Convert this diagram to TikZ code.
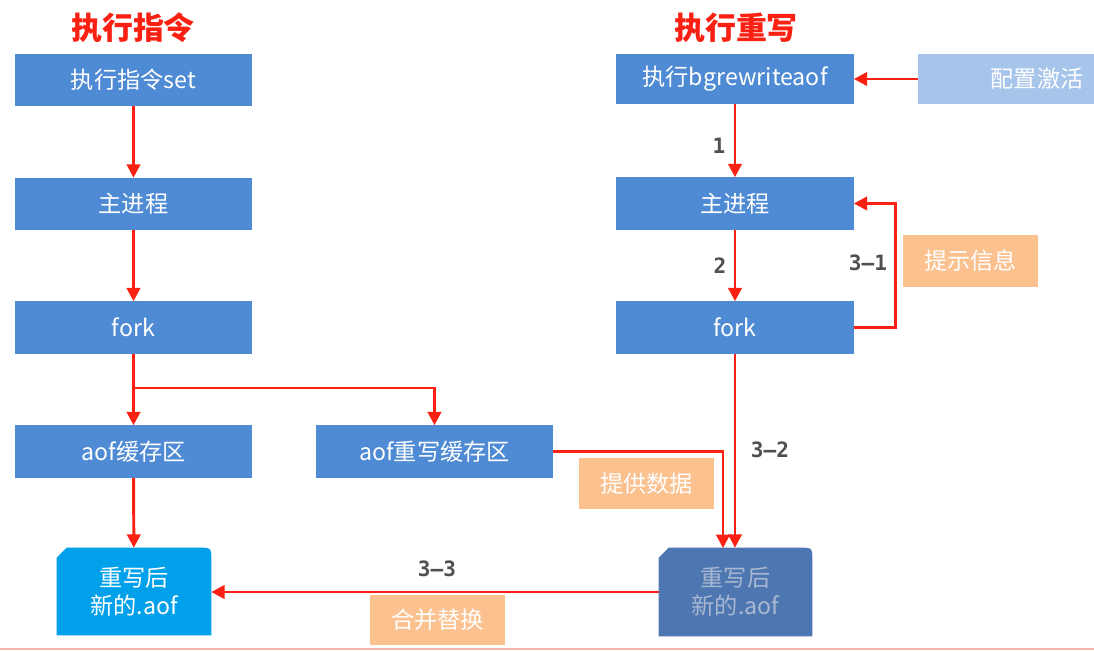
\documentclass[tikz,border=0pt]{standalone}
\usepackage{fontspec}
\setmainfont{Noto Sans CJK SC}
\newfontfamily\labfont{DejaVu Sans Mono}
\usetikzlibrary{arrows.meta,backgrounds}
\definecolor{boxblue}{RGB}{79,139,212}
\definecolor{lightblue}{RGB}{167,196,234}
\definecolor{peach}{RGB}{251,193,143}
\definecolor{cyanf}{RGB}{0,161,234}
\definecolor{steel}{RGB}{78,119,177}
\definecolor{steeltext}{RGB}{168,184,210}
\definecolor{arrred}{RGB}{250,32,18}
\definecolor{labgray}{RGB}{80,80,80}
\definecolor{salmon}{RGB}{246,183,168}
\begin{document}
\begin{tikzpicture}[x=0.025cm,y=-0.025cm,
  bluebox/.style={fill=boxblue,text=white,inner sep=0pt,minimum width=5.925cm,minimum height=1.3cm,font=\fontsize{16.5}{19}\selectfont},
  peachbox/.style={fill=peach,text=white,inner sep=0pt,minimum width=3.375cm,minimum height=1.28cm,font=\fontsize{16.5}{19}\selectfont},
  filebox/.style={inner sep=0pt,align=center,font=\fontsize{16.5}{20}\selectfont},
  lab/.style={text=labgray,font=\labfont\bfseries\fontsize{15}{18}\selectfont},
  ttl/.style={text=arrred,font=\bfseries\fontsize{22}{26}\selectfont},
  arr/.style={draw=arrred,line width=2.1pt,-{Triangle[length=9.5pt,width=9.5pt]}}]
\useasboundingbox (0,0) rectangle (1094,651);
% titles
\node[ttl] (t1) at (133,28) {执行指令};
\node[ttl] (t2) at (736,28) {执行重写};
% left column
\node[bluebox] (set) at (133.5,80) {执行指令set};
\node[bluebox] (mp1) at (133.5,204) {主进程};
\node[bluebox] (fork1) at (133.5,327.5) {fork};
\node[bluebox] (aofb) at (133.5,451.5) {aof缓存区};
\node[bluebox] (aofrw) at (434.5,451.5) {aof重写缓存区};
% right column
\node[bluebox,minimum height=1.25cm] (bgr) at (735,79) {执行bgrewriteaof};
\node[bluebox] (mp2) at (735,203.5) {主进程};
\node[bluebox] (fork2) at (735,327.5) {fork};
\node[bluebox,fill=lightblue,minimum height=1.25cm] (cfg) at (1037,79) {配置激活};
% peach labels
\node[peachbox] (tip) at (970.5,261) {提示信息};
\node[peachbox] (data) at (646.5,483.5) {提供数据};
\node[peachbox,minimum height=1.25cm] (merge) at (437.5,620) {合并替换};
% files
\node[filebox,text=white,minimum width=3.85cm,minimum height=2.175cm] (new1) at (134,591.5) {重写后\\新的.aof};
\node[filebox,text=steeltext,minimum width=3.825cm,minimum height=2.2cm] (new2) at (735.5,592) {重写后\\新的.aof};
\begin{pgfonlayer}{background}
\fill[white] (0,0) rectangle (1094,651);
\fill[cyanf] (new1.south west) -- ([yshift=-7pt]new1.north west) -- ([xshift=7pt]new1.north west) -- ([xshift=-8pt]new1.north east) .. controls (new1.north east) .. ([yshift=-8pt]new1.north east) -- (new1.south east) -- cycle;
\fill[steel] (new2.south west) -- ([yshift=-7pt]new2.north west) -- ([xshift=7pt]new2.north west) -- ([xshift=-8pt]new2.north east) .. controls (new2.north east) .. ([yshift=-8pt]new2.north east) -- (new2.south east) -- cycle;
\end{pgfonlayer}
% step labels
\node[lab] (l1) at (719,146) {1};
\node[lab] (l2) at (720,266) {2};
\node[lab] (l31) at (868,263) {3–1};
\node[lab] (l32) at (770,450) {3–2};
\node[lab] (l33) at (437,569) {3–3};
% connectors
\draw[arr] (set) -- (mp1);
\draw[arr] (mp1) -- (fork1);
\coordinate (br) at (133.5,388);
\draw[arr] (fork1.south) -- (br) -- (aofb.north);
\draw[arr] (br) -| (aofrw.north);
\draw[arr] (aofb) -- (new1);
\draw[arr] (cfg.west) -- (bgr.east);
\draw[arr] (bgr) -- (mp2);
\draw[arr] (mp2) -- (fork2);
\draw[arr] (fork2.east) -- ++(42,0) |- (mp2.east);
\draw[arr] (fork2.south) -- (fork2.south |- new2.north);
\coordinate (in2) at (723,548);
\draw[arr] (aofrw.east) -| (in2);
\draw[arr] (new2.west) -- (new2.west -| new1.east);
% bottom rule
\draw[salmon,line width=0.8pt] (0,649) -- (1094,649);
\end{tikzpicture}
\end{document}
